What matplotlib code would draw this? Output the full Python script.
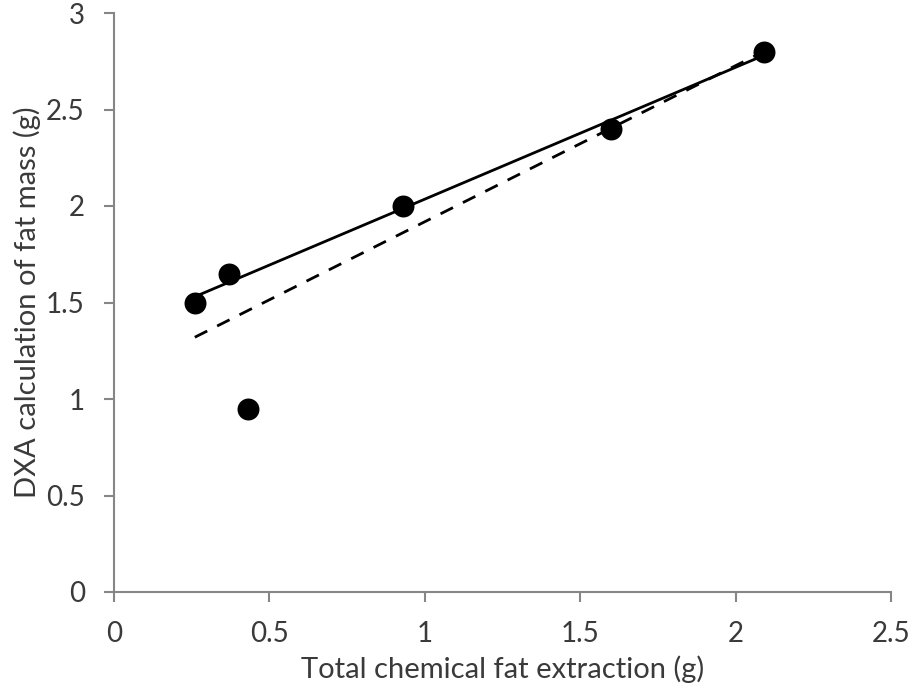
import matplotlib
matplotlib.use("Agg")
import matplotlib.pyplot as plt

# Data
x_pts = [0.26, 0.37, 0.43, 0.93, 1.60, 2.09]
y_pts = [1.50, 1.65, 0.95, 2.00, 2.40, 2.80]

# Fitted / reference lines (endpoints)
solid_x = [0.26, 2.09]
solid_y = [1.53, 2.78]
dashed_x = [0.26, 2.09]
dashed_y = [1.32, 2.80]

x_ticks = [0, 0.5, 1, 1.5, 2, 2.5]
x_ticklabels = ["0", "0.5", "1", "1.5", "2", "2.5"]
y_ticks = [0, 0.5, 1, 1.5, 2, 2.5, 3]
y_ticklabels = ["0", "0.5", "1", "1.5", "2", "2.5", "3"]

plt.rcParams['font.family'] = ['Lato', 'DejaVu Sans']
plt.rcParams['lines.scale_dashes'] = False

text_color = '#3a3a3a'
spine_color = '#868686'
fs_tick = 20
fs_label = 21

fig = plt.figure(figsize=(9.11, 6.95), dpi=100)
ax = fig.add_axes([114/911, 1 - 592/695, (891 - 114)/911, (592 - 13)/695])

ax.plot(dashed_x, dashed_y, color='black', linewidth=2.0, dashes=(10, 8), zorder=2)
ax.plot(solid_x, solid_y, color='black', linewidth=2.0, zorder=3)
ax.scatter(x_pts, y_pts, s=250, color='black', zorder=4, linewidths=0)

ax.set_xlim(0, 2.5)
ax.set_ylim(0, 3)
ax.set_xticks(x_ticks)
ax.set_xticklabels(x_ticklabels)
ax.set_yticks(y_ticks)
ax.set_yticklabels(y_ticklabels)

for s in ['top', 'right']:
    ax.spines[s].set_visible(False)
for s in ['left', 'bottom']:
    ax.spines[s].set_color(spine_color)
    ax.spines[s].set_linewidth(1.5)

ax.tick_params(axis='both', direction='out', length=7, width=1.5, color=spine_color,
               labelsize=fs_tick, labelcolor=text_color, pad=14)

ax.set_xlabel("Total chemical fat extraction (g)", fontsize=fs_label, color=text_color, labelpad=6)
ax.set_ylabel("DXA calculation of fat mass (g)", fontsize=fs_label, color=text_color, labelpad=4)

fig.savefig("out.png", dpi=100)
